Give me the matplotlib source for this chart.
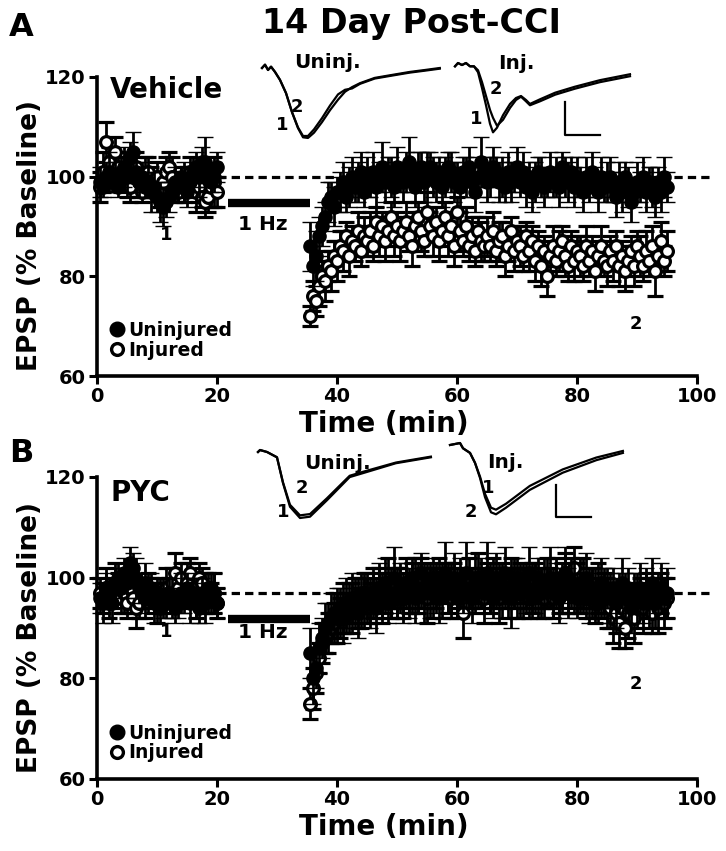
import matplotlib
matplotlib.use("Agg")
import matplotlib.pyplot as plt
from matplotlib.lines import Line2D

plt.rcParams['font.family'] = ['DejaVu Sans']
plt.rcParams['font.weight'] = 'bold'

# ---------------- data ----------------
t_base = [0.5 + 0.5 * i for i in range(40)]
t_post = [35.5 + 0.5 * i for i in range(120)]

A_unj_base = [99, 98, 100, 101, 99, 100, 98, 101, 102, 100, 104, 105, 101, 99, 100, 98, 99, 97, 98, 96,
              95, 94, 95, 96, 97, 99, 98, 100, 99, 97, 99, 101, 102, 100, 103, 103, 101, 99, 100, 102]
A_unj_base_err = [3, 2, 3, 4, 2, 3, 2, 3, 4, 3, 3, 4, 2, 3, 3, 2, 3, 4, 3, 3,
                  4, 4, 3, 3, 2, 3, 3, 2, 4, 3, 2, 3, 3, 4, 3, 5, 3, 2, 3, 3]
A_inj_base = [98, 101, 107, 103, 100, 105, 102, 99, 101, 100, 98, 100, 102, 99, 97, 100, 101, 99, 98, 100,
              97, 99, 101, 102, 100, 98, 97, 99, 98, 100, 101, 99, 97, 98, 96, 95, 96, 98, 99, 97]
A_inj_base_err = [3, 4, 4, 3, 2, 3, 3, 2, 3, 4, 3, 2, 3, 3, 2, 4, 3, 3, 2, 3,
                  3, 2, 3, 3, 4, 3, 2, 3, 3, 2, 3, 3, 4, 3, 2, 3, 3, 4, 5, 3]
A_unj_post = [86, 82, 84, 88, 90, 92, 95, 96, 94, 97,
              97, 99, 96, 98, 100, 98, 99, 101, 97, 100,
              99, 101, 98, 100, 102, 99, 101, 100, 98, 102,
              100, 99, 101, 103, 100, 98, 101, 102, 99, 101,
              102, 100, 99, 101, 98, 100, 102, 101, 99, 100,
              98, 101, 100, 102, 99, 97, 100, 103, 101, 99,
              100, 102, 101, 99, 100, 98, 101, 99, 100, 102,
              99, 101, 98, 100, 97, 99, 101, 100, 98, 99,
              101, 99, 100, 98, 102, 100, 99, 101, 98, 100,
              99, 97, 100, 98, 101, 99, 97, 100, 98, 99,
              100, 98, 96, 99, 97, 100, 98, 95, 97, 99,
              98, 100, 97, 99, 98, 96, 99, 97, 100, 98]
A_unj_post_err = [5, 4, 5, 4, 4, 3, 4, 3, 4, 3,
                  4, 4, 3, 4, 4, 3, 4, 4, 3, 4,
                  3, 4, 4, 3, 5, 4, 3, 4, 4, 4,
                  3, 4, 4, 5, 3, 4, 4, 3, 4, 4,
                  3, 4, 4, 3, 4, 4, 3, 4, 4, 3,
                  4, 3, 4, 4, 3, 4, 4, 5, 3, 4,
                  4, 4, 3, 4, 4, 3, 4, 4, 3, 4,
                  3, 4, 4, 3, 4, 4, 3, 4, 4, 3,
                  4, 3, 4, 4, 3, 4, 4, 3, 4, 4,
                  3, 4, 4, 3, 4, 3, 4, 4, 3, 4,
                  4, 3, 4, 4, 4, 3, 4, 4, 3, 4,
                  3, 4, 4, 3, 4, 4, 3, 4, 4, 3]
A_inj_post = [72, 76, 75, 78, 80, 79, 82, 81, 84, 83,
              86, 85, 88, 84, 87, 86, 89, 85, 88, 87,
              89, 86, 91, 88, 90, 87, 89, 92, 88, 90,
              87, 89, 91, 88, 86, 90, 92, 89, 87, 93,
              90, 88, 91, 87, 89, 92, 88, 90, 86, 93,
              89, 87, 90, 86, 88, 85, 89, 87, 86, 88,
              86, 89, 85, 87, 88, 84, 86, 89, 85, 87,
              86, 84, 88, 85, 87, 83, 86, 82, 85, 80,
              84, 86, 83, 85, 87, 84, 82, 86, 83, 85,
              84, 82, 86, 83, 85, 81, 84, 86, 83, 82,
              85, 83, 86, 82, 84, 81, 83, 85, 82, 86,
              84, 82, 85, 83, 86, 81, 84, 87, 83, 85]
A_inj_post_err = [2, 3, 3, 4, 3, 4, 3, 4, 3, 4,
                  3, 4, 3, 4, 3, 3, 4, 3, 4, 3,
                  4, 3, 3, 4, 3, 4, 3, 3, 4, 3,
                  4, 3, 4, 3, 4, 3, 3, 4, 3, 4,
                  3, 4, 3, 4, 3, 3, 4, 3, 4, 3,
                  4, 3, 4, 3, 4, 3, 3, 4, 3, 4,
                  3, 4, 3, 4, 3, 4, 3, 3, 4, 3,
                  4, 3, 3, 4, 3, 4, 3, 4, 3, 4,
                  3, 4, 3, 4, 3, 4, 3, 3, 4, 3,
                  4, 3, 4, 3, 3, 4, 3, 4, 3, 4,
                  3, 4, 3, 4, 3, 4, 3, 3, 4, 3,
                  4, 3, 4, 3, 4, 5, 3, 4, 3, 4]

B_unj_base = [96, 95, 98, 97, 95, 99, 100, 98, 101, 99, 103, 102, 100, 98, 97, 99, 96, 98, 95, 97,
              94, 96, 95, 97, 96, 94, 95, 97, 96, 98, 95, 97, 96, 94, 97, 95, 96, 98, 97, 95]
B_unj_base_err = [3, 4, 3, 3, 4, 3, 3, 4, 3, 3, 3, 3, 4, 3, 3, 4, 3, 3, 4, 3,
                  3, 4, 3, 3, 4, 3, 3, 4, 3, 3, 4, 3, 4, 3, 3, 4, 3, 3, 4, 3]
B_inj_base = [97, 96, 98, 95, 97, 99, 98, 96, 97, 95, 98, 96, 94, 95, 97, 96, 98, 97, 96, 95,
              97, 96, 98, 97, 99, 101, 98, 100, 97, 99, 101, 98, 96, 100, 99, 97, 98, 96, 97, 95]
B_inj_base_err = [3, 3, 4, 3, 3, 4, 3, 3, 4, 3, 3, 3, 4, 3, 3, 4, 3, 3, 3, 4,
                  3, 3, 4, 3, 3, 4, 3, 3, 3, 4, 3, 3, 4, 3, 3, 4, 3, 3, 4, 3]
B_unj_post = [85, 80, 82, 86, 88, 90, 91, 92, 93, 93,
              94, 92, 95, 93, 96, 94, 93, 97, 95, 96,
              95, 97, 94, 98, 96, 99, 95, 97, 100, 96,
              98, 96, 99, 97, 100, 96, 98, 101, 97, 99,
              97, 100, 98, 96, 99, 101, 97, 98, 100, 96,
              99, 97, 101, 98, 96, 100, 98, 99, 97, 101,
              98, 96, 100, 99, 97, 101, 98, 96, 99, 100,
              97, 99, 98, 101, 96, 98, 100, 97, 99, 98,
              100, 97, 99, 96, 98, 101, 97, 99, 98, 96,
              99, 97, 100, 96, 98, 97, 95, 99, 97, 98,
              96, 98, 95, 97, 99, 96, 98, 94, 97, 96,
              98, 95, 97, 96, 99, 95, 97, 98, 96, 97]
B_unj_post_err = [5, 5, 4, 5, 4, 5, 4, 5, 4, 5,
                  4, 5, 5, 4, 5, 4, 5, 4, 5, 4,
                  5, 4, 5, 5, 4, 5, 4, 5, 6, 4,
                  5, 5, 4, 5, 4, 5, 5, 4, 6, 4,
                  5, 4, 5, 5, 4, 6, 4, 5, 5, 4,
                  5, 4, 6, 4, 5, 5, 4, 5, 4, 6,
                  5, 4, 5, 4, 5, 5, 4, 6, 5, 4,
                  5, 4, 5, 5, 4, 5, 4, 5, 5, 4,
                  6, 5, 4, 5, 4, 5, 5, 4, 5, 4,
                  5, 4, 5, 5, 4, 5, 4, 5, 5, 4,
                  5, 4, 5, 4, 5, 5, 4, 5, 4, 5,
                  5, 4, 5, 4, 5, 5, 4, 5, 4, 5]
B_inj_post = [75, 78, 81, 84, 87, 88, 89, 90, 91, 92,
              92, 94, 93, 95, 94, 96, 95, 94, 97, 96,
              95, 97, 96, 98, 96, 97, 99, 96, 98, 97,
              98, 96, 99, 97, 98, 100, 97, 99, 98, 96,
              99, 97, 98, 100, 97, 99, 98, 96, 99, 97,
              98, 93, 97, 99, 98, 97, 100, 98, 96, 99,
              97, 99, 98, 96, 99, 98, 97, 100, 98, 97,
              99, 97, 98, 96, 98, 99, 97, 98, 96, 99,
              98, 96, 99, 97, 98, 101, 97, 99, 102, 98,
              97, 99, 96, 98, 97, 95, 98, 96, 97, 95,
              94, 92, 93, 91, 94, 90, 93, 95, 92, 94,
              96, 94, 97, 95, 93, 96, 94, 97, 95, 96]
B_inj_post_err = [3, 4, 4, 3, 4, 3, 4, 3, 4, 5,
                  4, 5, 4, 4, 5, 4, 5, 4, 4, 5,
                  4, 5, 4, 4, 5, 4, 5, 4, 4, 5,
                  4, 4, 5, 4, 5, 4, 4, 5, 4, 5,
                  4, 5, 4, 4, 5, 4, 5, 4, 4, 5,
                  4, 5, 4, 5, 4, 4, 5, 4, 5, 4,
                  4, 5, 4, 5, 4, 4, 5, 4, 4, 5,
                  4, 5, 4, 4, 5, 4, 5, 4, 4, 5,
                  4, 4, 5, 4, 5, 4, 4, 5, 4, 5,
                  4, 5, 4, 4, 5, 4, 5, 4, 4, 5,
                  4, 5, 4, 5, 4, 4, 5, 4, 5, 4,
                  4, 5, 4, 5, 4, 4, 5, 4, 5, 4]

# EPSP example traces (time in ms, amplitude in mV)
trA_unj_t = [0, 0.43, 0.86, 1.29, 1.86, 2.57, 3.43, 4.29, 5.14, 5.86, 6.57, 7.43, 8.57, 9.71, 10.86,
             11.86, 12.86, 14.0, 16.1, 18.3, 21.1, 23.3, 25.4]
trA_unj_1 = [0, 0.05, -0.03, 0.02, -0.06, -0.18, -0.38, -0.67, -0.91, -1.05, -1.06, -0.98, -0.82, -0.64,
             -0.48, -0.36, -0.29, -0.23, -0.15, -0.11, -0.06, -0.03, 0.0]
trA_unj_2 = [0, 0.05, -0.03, 0.02, -0.06, -0.18, -0.38, -0.67, -0.90, -1.03, -1.03, -0.93, -0.76, -0.57,
             -0.40, -0.33, -0.31, -0.24, -0.16, -0.12, -0.07, -0.04, -0.01]
trA_inj_t = [0, 0.43, 1.0, 1.57, 2.14, 2.71, 3.29, 3.86, 4.43, 5.0, 5.43, 6.0, 6.86, 7.86, 8.71, 9.43,
             10.14, 10.71, 12.14, 14.3, 17.1, 20.7, 25.0]
trA_inj_1 = [-0.02, 0.03, 0.0, 0.03, -0.02, -0.02, -0.11, -0.35, -0.61, -0.89, -1.02, -0.95, -0.76,
             -0.59, -0.50, -0.47, -0.53, -0.59, -0.52, -0.42, -0.33, -0.23, -0.14]
trA_inj_2 = [-0.02, 0.03, 0.0, 0.03, -0.02, -0.02, -0.08, -0.26, -0.47, -0.68, -0.80, -0.92, -0.83,
             -0.65, -0.53, -0.48, -0.55, -0.61, -0.55, -0.45, -0.36, -0.26, -0.17]
trB_unj_t = [0, 0.29, 1.29, 2.71, 3.57, 4.57, 6.0, 7.43, 9.86, 13.1, 15.0, 19.7, 24.7]
trB_unj_1 = [0.0, 0.03, 0.0, -0.08, -0.47, -0.83, -1.0, -0.98, -0.73, -0.38, -0.32, -0.17, -0.08]
trB_unj_2 = [0.0, 0.03, 0.0, -0.08, -0.46, -0.80, -0.96, -0.94, -0.70, -0.36, -0.30, -0.16, -0.07]
trB_inj_t = [0, 1.43, 1.86, 2.86, 3.57, 4.29, 5.0, 5.86, 6.57, 8.0, 11.4, 16.1, 20.9, 24.7]
trB_inj_1 = [0.0, 0.03, -0.05, -0.12, -0.27, -0.48, -0.74, -0.95, -0.98, -0.89, -0.62, -0.37, -0.19, -0.09]
trB_inj_2 = [0.0, 0.03, -0.05, -0.12, -0.27, -0.50, -0.79, -1.02, -1.05, -0.95, -0.68, -0.42, -0.23, -0.12]

# ---------------- figure ----------------
W, H = 726, 851
fig = plt.figure(figsize=(W / 100, H / 100), dpi=100)

TICK_FS = 14


def px_rect(left, top, right, bottom):
    return [left / W, 1 - bottom / H, (right - left) / W, (bottom - top) / H]


def panel(ax, ub, ube, ib, ibe, up, upe, ip, ipe, base, bar_y, cond, cond_y, one_y, hz_y, two_y):
    ax.plot([0, 102], [base, base], ls=(0, (2.6, 1.6)), lw=2.3, color='black', zorder=1, clip_on=False)
    ax.plot([21.8, 35.5], [bar_y, bar_y], lw=6, color='black', solid_capstyle='butt', zorder=2)
    kw = dict(fmt='o', ecolor='black', elinewidth=2, capsize=6, capthick=2, clip_on=False)
    for tt, yy, ee in [(t_base, ib, ibe), (t_post, ip, ipe)]:
        ax.errorbar(tt, yy, yerr=ee, mfc='white', mec='black', ms=8.5, mew=2.3, zorder=3, **kw)
    for tt, yy, ee in [(t_base, ub, ube), (t_post, up, upe)]:
        ax.errorbar(tt, yy, yerr=ee, mfc='black', mec='black', ms=9.5, mew=1, zorder=4, **kw)
    ax.set_xlim(0, 100)
    ax.set_ylim(60, 120)
    ax.set_xticks([0, 20, 40, 60, 80, 100])
    ax.set_yticks([60, 80, 100, 120])
    for s in ['top', 'right']:
        ax.spines[s].set_visible(False)
    for s in ['left', 'bottom']:
        ax.spines[s].set_linewidth(2.6)
    ax.tick_params(width=2.2, length=6, labelsize=TICK_FS, pad=2)
    for lab in ax.get_xticklabels() + ax.get_yticklabels():
        lab.set_fontweight('bold')
    ax.set_xlabel('Time (min)', fontsize=20, fontweight='bold')
    ax.xaxis.set_label_coords(0.478, -0.16)
    ax.xaxis.label.set_va('center')
    ax.set_ylabel('EPSP (% Baseline)', fontsize=19, fontweight='bold')
    ax.yaxis.set_label_coords(-0.112, 0.47)
    ax.yaxis.label.set_va('center')
    ax.text(2.2, cond_y, cond, fontsize=20, fontweight='bold', va='center', ha='left')
    ax.text(11.6, one_y, '1', fontsize=13, fontweight='bold', ha='center', va='center')
    ax.text(27.7, hz_y, '1 Hz', fontsize=14.5, fontweight='bold', ha='center', va='center')
    ax.text(89.8, two_y, '2', fontsize=13, fontweight='bold', ha='center', va='center')
    h1 = Line2D([], [], ls='none', marker='o', ms=10.5, mfc='black', mec='black')
    h2 = Line2D([], [], ls='none', marker='o', ms=8.5, mfc='white', mec='black', mew=2.4)
    ax.legend([h1, h2], ['Uninjured', 'Injured'], loc='lower left', bbox_to_anchor=(0.008, 0.03),
              frameon=False, handlelength=0.8, handletextpad=0.2, labelspacing=0.05, borderaxespad=0,
              prop={'size': 13.5, 'weight': 'bold'})


axA = fig.add_axes(px_rect(97, 77, 697, 376))
panel(axA, A_unj_base, A_unj_base_err, A_inj_base, A_inj_base_err,
      A_unj_post, A_unj_post_err, A_inj_post, A_inj_post_err,
      100, 94.7, 'Vehicle', 117.3, 88.2, 90.4, 70.4)

axB = fig.add_axes(px_rect(97, 477, 697, 779))
panel(axB, B_unj_base, B_unj_base_err, B_inj_base, B_inj_base_err,
      B_unj_post, B_unj_post_err, B_inj_post, B_inj_post_err,
      97, 91.8, 'PYC', 116.8, 89.2, 89.2, 78.8)


def inset(left_px, v0_px, t, y1, y2, name, name_xy, lab1_xy, lab2_xy, bar=None):
    sx, sy = 7.0, 66.0
    t0, t1, v0, v1 = -0.5, 26.0, -1.25, 0.15
    rect = [(left_px + t0 * sx) / W, 1 - (v0_px - v0 * sy) / H, (t1 - t0) * sx / W, (v1 - v0) * sy / H]
    ax = fig.add_axes(rect)
    ax.set_xlim(t0, t1)
    ax.set_ylim(v0, v1)
    ax.axis('off')
    ax.patch.set_alpha(0)
    ax.plot(t, y1, color='black', lw=1.6)
    ax.plot(t, y2, color='black', lw=1.6)
    ax.text(*name_xy, name, fontsize=14.5, fontweight='bold', ha='center', va='center')
    ax.text(*lab1_xy, '1', fontsize=13, fontweight='bold', ha='center', va='center')
    ax.text(*lab2_xy, '2', fontsize=13, fontweight='bold', ha='center', va='center')
    if bar is not None:
        bx, btop, bbot = bar
        ax.plot([bx, bx, bx + 5], [btop, bbot, bbot], color='black', lw=1.6)


inset(262, 68, trA_unj_t, trA_unj_1, trA_unj_2, 'Uninj.', (9.3, 0.08), (2.9, -0.86), (5.0, -0.59))
inset(455, 65, trA_inj_t, trA_inj_1, trA_inj_2, 'Inj.', (8.7, 0.03), (3.0, -0.82), (5.9, -0.36),
      bar=(15.7, -0.56, -1.06))
inset(258, 452, trB_unj_t, trB_unj_1, trB_unj_2, 'Uninj.', (11.3, -0.17), (3.6, -0.91), (6.3, -0.55))
inset(450, 445, trB_inj_t, trB_inj_1, trB_inj_2, 'Inj.', (7.9, -0.26), (5.4, -0.65), (3.0, -1.02),
      bar=(15.1, -0.61, -1.09))

fig.text(411 / W, 1 - 23 / H, '14 Day Post-CCI', fontsize=24, fontweight='bold', ha='center', va='center')
fig.text(21 / W, 1 - 27 / H, 'A', fontsize=23, fontweight='bold', ha='center', va='center')
fig.text(21 / W, 1 - 453 / H, 'B', fontsize=23, fontweight='bold', ha='center', va='center')

fig.savefig('out.png', dpi=100)
